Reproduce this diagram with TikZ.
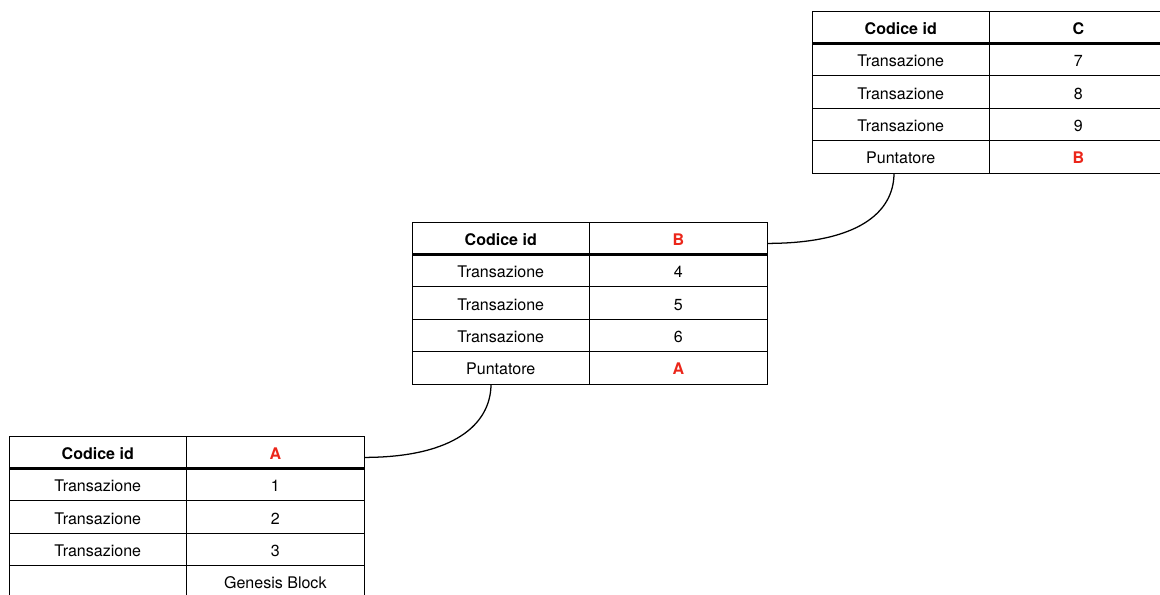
\documentclass[tikz,border=0pt]{standalone}
\usepackage{fontspec}
\setmainfont{TeX Gyre Heros}
\usepackage{tikz}
\usetikzlibrary{positioning, calc}

\definecolor{rosso}{RGB}{235,38,26}
\newcommand{\testo}{\fontsize{11.4}{13}\selectfont}

\tikzset{
  cella/.style={draw, line width=0.7pt, minimum width=4.4375cm, minimum height=0.81cm,
    inner sep=0pt, outer sep=0pt, text height=10.2pt, text depth=0pt, font=\testo},
  titolo/.style={cella, font=\testo\bfseries},
  puntato/.style={cella, font=\testo\bfseries, text=rosso},
  riga/.style={line width=2.2pt},
  legame/.style={line width=0.9pt},
}

\begin{document}
\begin{tikzpicture}[x=0.025cm, y=-0.025cm]
\useasboundingbox (0,0) rectangle (1160,594);
\clip (0,0) rectangle (1160,594);

% blocco C
\node[titolo, anchor=north west] (C-h1) at (812,11) {Codice id};
\node[titolo, right=0pt of C-h1] (C-h2) {C};
\foreach \i/\v in {1/7,2/8,3/9} {
  \node[cella, anchor=north west] (C-t\i) at (812,{11+32.4*\i}) {Transazione};
  \node[cella, right=0pt of C-t\i] (C-v\i) {\v};
}
\node[cella, below=0pt of C-t3] (C-p1) {Puntatore};
\node[puntato, right=0pt of C-p1] (C-p2) {B};
\draw[riga] (C-h1.south west) -- (C-h2.south east);

% blocco B
\node[titolo, anchor=north west] (B-h1) at (412,222) {Codice id};
\node[puntato, right=0pt of B-h1] (B-h2) {B};
\foreach \i/\v in {1/4,2/5,3/6} {
  \node[cella, anchor=north west] (B-t\i) at (412,{222+32.4*\i}) {Transazione};
  \node[cella, right=0pt of B-t\i] (B-v\i) {\v};
}
\node[cella, below=0pt of B-t3] (B-p1) {Puntatore};
\node[puntato, right=0pt of B-p1] (B-p2) {A};
\draw[riga] (B-h1.south west) -- (B-h2.south east);

% blocco A
\node[titolo, anchor=north west] (A-h1) at (9,436) {Codice id};
\node[puntato, right=0pt of A-h1] (A-h2) {A};
\foreach \i/\v in {1/1,2/2,3/3} {
  \node[cella, anchor=north west] (A-t\i) at (9,{436+32.4*\i}) {Transazione};
  \node[cella, right=0pt of A-t\i] (A-v\i) {\v};
}
\node[cella, below=0pt of A-t3] (A-p1) {};
\node[cella, right=0pt of A-p1] (A-p2) {Genesis Block};
\draw[riga] (A-h1.south west) -- (A-h2.south east);

% collegamenti
\coordinate (B-uscita) at ($(B-h2.south east)+(0,-11)$);
\coordinate (C-ingresso) at ($(C-p1.south west)+(82,0)$);
\draw[legame] (B-uscita) .. controls +(90,0) and +(0,40) .. (C-ingresso);
\coordinate (A-uscita) at ($(A-h2.south east)+(0,-11)$);
\coordinate (B-ingresso) at ($(B-p1.south west)+(79,0)$);
\draw[legame] (A-uscita) .. controls +(90,0) and +(0,40) .. (B-ingresso);
\end{tikzpicture}
\end{document}
